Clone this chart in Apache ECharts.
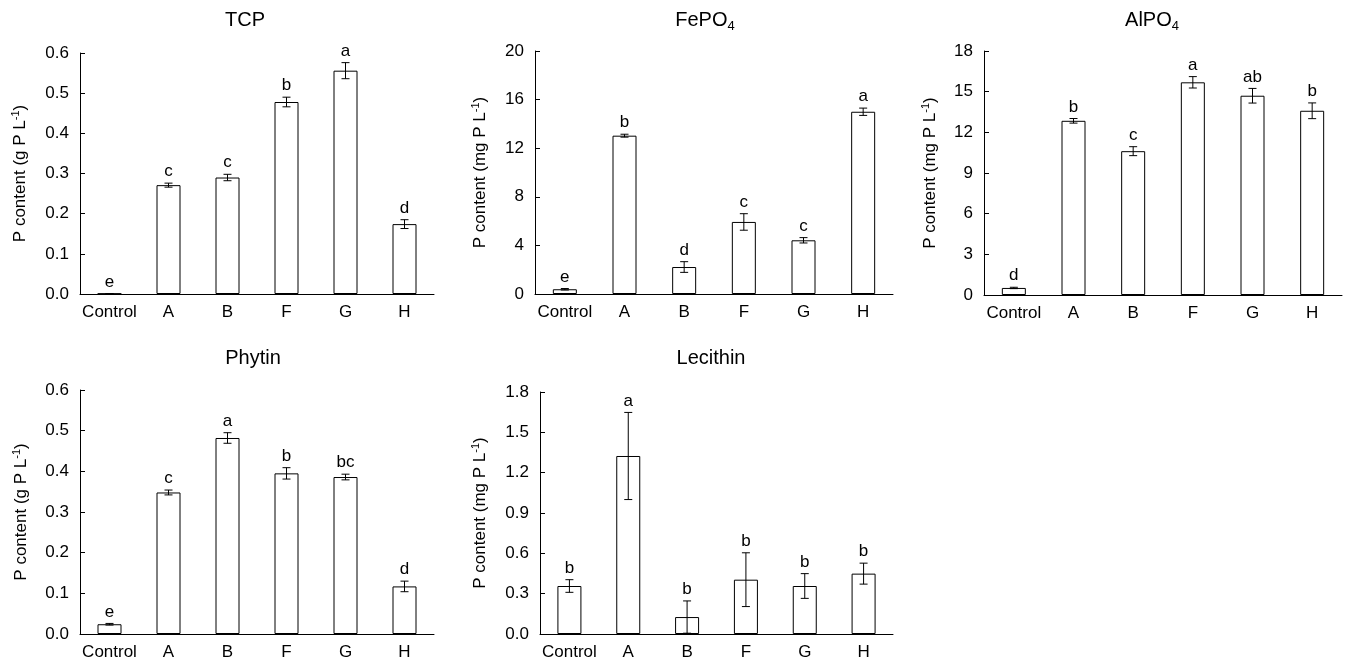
<!DOCTYPE html>
<html>
<head>
<meta charset="utf-8">
<script src="https://cdn.jsdelivr.net/npm/echarts@6/dist/echarts.min.js"></script>
<style>
html,body{margin:0;padding:0;background:#fff;}
#chart{width:1347px;height:667px;}
</style>
</head>
<body>
<div id="chart"></div>
<script>
const categories = ['Control', 'A', 'B', 'F', 'G', 'H'];

const tcpMean = [0.001, 0.271, 0.290, 0.478, 0.556, 0.174];
const tcpErr = [0.0, 0.005, 0.008, 0.012, 0.020, 0.011];
const tcpLetters = ['e', 'c', 'c', 'b', 'a', 'd'];

const fepo4Mean = [0.39, 13.03, 2.22, 5.93, 4.42, 15.0];
const fepo4Err = [0.06, 0.12, 0.44, 0.68, 0.22, 0.30];
const fepo4Letters = ['e', 'b', 'd', 'c', 'c', 'a'];

const alpo4Mean = [0.52, 12.85, 10.61, 15.69, 14.70, 13.59];
const alpo4Err = [0.05, 0.17, 0.33, 0.42, 0.54, 0.58];
const alpo4Letters = ['d', 'b', 'c', 'a', 'ab', 'b'];

const phytinMean = [0.024, 0.348, 0.482, 0.395, 0.386, 0.117];
const phytinErr = [0.002, 0.006, 0.013, 0.014, 0.007, 0.013];
const phytinLetters = ['e', 'c', 'a', 'b', 'bc', 'd'];

const lecithinMean = [0.357, 1.324, 0.126, 0.404, 0.357, 0.449];
const lecithinErr = [0.047, 0.324, 0.120, 0.200, 0.092, 0.078];
const lecithinLetters = ['b', 'a', 'b', 'b', 'b', 'b'];

const yMaxes = [0.6, 20, 18, 0.6, 1.8];
const ySteps = [0.1, 4, 3, 0.1, 0.3];
const yDecimals = [1, 0, 0, 1, 1];
const yUnits = ['g', 'mg', 'mg', 'g', 'mg'];
const titleMain = ['TCP', 'FePO', 'AlPO', 'Phytin', 'Lecithin'];
const titleSub = ['', '4', '4', '', ''];

const FONT = "'Liberation Sans', Arial, sans-serif";

const panels = [
  {mean: tcpMean, err: tcpErr, letters: tcpLetters},
  {mean: fepo4Mean, err: fepo4Err, letters: fepo4Letters},
  {mean: alpo4Mean, err: alpo4Err, letters: alpo4Letters},
  {mean: phytinMean, err: phytinErr, letters: phytinLetters},
  {mean: lecithinMean, err: lecithinErr, letters: lecithinLetters}
];

const gridBoxes = [
  {left: 80, top: 53, width: 354, height: 241},
  {left: 535, top: 51, width: 358, height: 243},
  {left: 984, top: 51, width: 358, height: 244},
  {left: 80, top: 390, width: 354, height: 244},
  {left: 540, top: 392, width: 353, height: 242}
];
const nameGaps = [50, 45, 44, 49, 50];
const titlePos = [[245, 20], [705, 20], [1152, 20], [253, 358], [711, 358]];

const grids = [], xAxes = [], yAxes = [], series = [], graphics = [];

panels.forEach((p, i) => {
  const g = gridBoxes[i];
  grids.push({left: g.left, top: g.top, width: g.width, height: g.height, containLabel: false});
  xAxes.push({
    type: 'category', gridIndex: i, data: categories,
    axisLine: {lineStyle: {color: '#000', width: 1}},
    axisTick: {show: false},
    axisLabel: {color: '#000', fontSize: 17, fontFamily: FONT, margin: 10, interval: 0}
  });
  yAxes.push({
    type: 'value', gridIndex: i, min: 0, max: yMaxes[i], interval: ySteps[i],
    splitLine: {show: false},
    axisLine: {show: true, lineStyle: {color: '#000', width: 1}},
    axisTick: {show: true, inside: true, length: 5, lineStyle: {color: '#000'}},
    axisLabel: {color: '#000', fontSize: 17, fontFamily: FONT, margin: 11,
      formatter: v => v.toFixed(yDecimals[i])},
    name: '{n|P content (' + yUnits[i] + ' P L}{s|-1}{n|)}',
    nameLocation: 'middle', nameGap: nameGaps[i], nameRotate: 90,
    nameTextStyle: {
      color: '#000', fontFamily: FONT,
      rich: {
        n: {fontSize: 17, lineHeight: 20, color: '#000', fontFamily: FONT},
        s: {fontSize: 11, lineHeight: 11, verticalAlign: 'top', color: '#000', fontFamily: FONT}
      }
    }
  });
  series.push({
    type: 'bar', xAxisIndex: i, yAxisIndex: i, data: p.mean, barWidth: 24,
    itemStyle: {color: '#fff', borderColor: '#000', borderWidth: 1},
    silent: true, animation: false
  });
  series.push({
    type: 'custom', xAxisIndex: i, yAxisIndex: i,
    data: p.mean.map((m, k) => [k, m, p.err[k]]),
    clip: false, animation: false, silent: true, z: 5,
    renderItem: (params, api) => {
      const k = api.value(0), m = api.value(1), e = api.value(2);
      const top = api.coord([k, m + e]);
      const bot = api.coord([k, m - e]);
      const cw = 4;
      const st = {stroke: '#000', lineWidth: 1};
      return {
        type: 'group',
        children: [
          {type: 'line', shape: {x1: top[0], y1: top[1], x2: bot[0], y2: bot[1]}, style: st},
          {type: 'line', shape: {x1: top[0] - cw, y1: top[1], x2: top[0] + cw, y2: top[1]}, style: st},
          {type: 'line', shape: {x1: bot[0] - cw, y1: bot[1], x2: bot[0] + cw, y2: bot[1]}, style: st},
          {type: 'text', x: top[0], y: top[1] - 3,
            style: {text: p.letters[params.dataIndex], fill: '#000', fontSize: 17, fontFamily: FONT,
              align: 'center', verticalAlign: 'bottom'}}
        ]
      };
    }
  });
  const t = titlePos[i];
  graphics.push({
    type: 'text', x: t[0], y: t[1],
    style: {
      text: titleSub[i] ? '{n|' + titleMain[i] + '}{b|' + titleSub[i] + '}' : '{n|' + titleMain[i] + '}',
      align: 'center', verticalAlign: 'middle', fill: '#000', fontFamily: FONT,
      rich: {
        n: {fontSize: 20, lineHeight: 26, fill: '#000', fontFamily: FONT},
        b: {fontSize: 13, lineHeight: 13, verticalAlign: 'bottom', fill: '#000', fontFamily: FONT}
      }
    }
  });
});

const chart = echarts.init(document.getElementById('chart'), null, {renderer: 'canvas'});
chart.setOption({
  backgroundColor: '#fff',
  animation: false,
  grid: grids, xAxis: xAxes, yAxis: yAxes, series: series, graphic: graphics
});
</script>
</body>
</html>
